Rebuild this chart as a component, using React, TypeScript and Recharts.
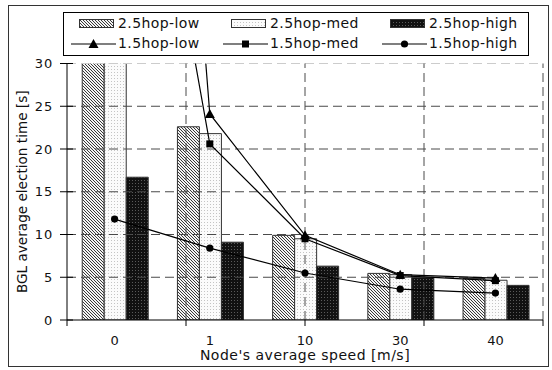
import { Bar, ComposedChart, Line, ReferenceLine, XAxis, YAxis } from "recharts";

const speeds = ["0", "1", "10", "30", "40"];
const hop25Low = [40, 22.6, 9.9, 5.45, 4.85];
const hop25Med = [40, 21.8, 9.5, 5.3, 4.65];
const hop25High = [16.7, 9.1, 6.3, 5.0, 4.05];
const hop15Low = [165, 24.1, 9.9, 5.3, 4.9];
const hop15Med = [83, 20.6, 9.5, 5.2, 4.6];
const hop15High = [11.8, 8.4, 5.5, 3.6, 3.15];
const yTicks = [0, 5, 10, 15, 20, 25, 30];
const boundaries = [0, 1, 2, 3, 4, 5];

const rows = speeds.map((speed, i) => ({
  speed,
  low25: hop25Low[i],
  med25: hop25Med[i],
  high25: hop25High[i],
  low15: hop15Low[i],
  med15: hop15Med[i],
  high15: hop15High[i],
}));

const FONT = "'DejaVu Sans', sans-serif";
const DARK_DASH = "#4a4a4a";
const LIGHT_DASH = "#ccc";

function triangle(cx: number, cy: number, key?: number) {
  return <path key={key} d={`M${cx},${cy - 5} L${cx + 5},${cy + 4} L${cx - 5},${cy + 4} Z`} fill="#000" />;
}
function square(cx: number, cy: number, key?: number) {
  return <rect key={key} x={cx - 3.5} y={cy - 3.5} width={7} height={7} fill="#000" />;
}
function circle(cx: number, cy: number, key?: number) {
  return <circle key={key} cx={cx} cy={cy} r={3.6} fill="#000" />;
}

const markerDot = (shape: typeof triangle) => (props: any) => {
  const { cx, cy, index } = props;
  if (cx == null || cy == null) return <g key={index} />;
  return shape(cx, cy, index);
};

function YTick({ x, y, payload }: any) {
  return (
    <g>
      <line x1={x + 7} x2={x + 20} y1={y} y2={y} stroke="#000" />
      <text x={x} y={y} dy={4.6} textAnchor="end" fontFamily={FONT} fontSize={13} fill="#111" letterSpacing={0.8}>
        {payload.value}
      </text>
    </g>
  );
}

const barItems = [
  { name: "2.5hop-low", fill: "url(#p-low)" },
  { name: "2.5hop-med", fill: "url(#p-med)" },
  { name: "2.5hop-high", fill: "url(#p-high)" },
];
const lineItems = [
  { name: "1.5hop-low", shape: triangle },
  { name: "1.5hop-med", shape: square },
  { name: "1.5hop-high", shape: circle },
];
const colStarts = [14, 166, 325];

function LegendBox() {
  const textStyle: React.CSSProperties = {
    position: "absolute",
    fontFamily: FONT,
    fontSize: 14,
    letterSpacing: 0.4,
    color: "#111",
    lineHeight: "16px",
    whiteSpace: "nowrap",
  };
  return (
    <div
      style={{
        position: "absolute",
        left: 63,
        top: 12,
        width: 464,
        height: 42,
        border: "1px solid #000",
        background: "#fff",
      }}
    >
      {barItems.map((it, i) => (
        <div key={it.name}>
          <svg style={{ position: "absolute", left: colStarts[i] + 1, top: 6 }} width={35} height={9}>
            <rect x={0.5} y={0.5} width={34} height={8} fill={it.fill} stroke="#333" />
          </svg>
          <span style={{ ...textStyle, left: colStarts[i] + 40, top: 2 }}>{it.name}</span>
        </div>
      ))}
      {lineItems.map((it, i) => (
        <div key={it.name}>
          <svg style={{ position: "absolute", left: colStarts[i] - 7, top: 24 }} width={45} height={14}>
            <line x1={0} x2={45} y1={7} y2={7} stroke="#000" strokeWidth={1.2} />
            {it.shape(22.5, 7)}
          </svg>
          <span style={{ ...textStyle, left: colStarts[i] + 40, top: 22 }}>{it.name}</span>
        </div>
      ))}
    </div>
  );
}

export default function App() {
  return (
    <div style={{ position: "absolute", left: 0, top: 0, width: 552, height: 370, background: "#fff" }}>
      <div
        style={{
          position: "absolute",
          left: 8,
          top: 5,
          width: 541,
          height: 362,
          border: "1px solid #333",
          boxSizing: "border-box",
        }}
      />
      <ComposedChart
        width={552}
        height={370}
        data={rows}
        margin={{ top: 63.5, right: 9, bottom: 9, left: 7 }}
        barGap={0}
        barCategoryGap="16%"
        style={{ position: "absolute", left: 0, top: 0 }}
      >
        <defs>
          <pattern id="p-low" patternUnits="userSpaceOnUse" width={3} height={3}>
            <rect width={3} height={3} fill="#f4f4f4" />
            <path d="M0,0 L3,3 M-1,2 L1,4 M2,-1 L4,1" stroke="#222" strokeWidth={0.9} />
          </pattern>
          <pattern id="p-med" patternUnits="userSpaceOnUse" width={3} height={3}>
            <rect width={3} height={3} fill="#fbfbfb" />
            <rect width={1} height={1} fill="#c4c4c4" />
          </pattern>
          <pattern id="p-high" patternUnits="userSpaceOnUse" width={3} height={3}>
            <rect width={3} height={3} fill="#111" />
            <rect width={1} height={1} fill="#5a5a5a" />
          </pattern>
        </defs>
        <XAxis
          xAxisId="b"
          dataKey="speed"
          axisLine={false}
          tickLine={false}
          tickSize={0}
          tickMargin={14.5}
          height={40}
          tick={{ fontFamily: FONT, fontSize: 13, fill: "#111" }}
          label={{
            value: "Node's average speed [m/s]",
            position: "insideBottom",
            offset: 1,
            style: { fontFamily: FONT, fontSize: 14, fill: "#111", letterSpacing: 0.5 },
          }}
        />
        <XAxis
          xAxisId="a"
          type="number"
          domain={[0, 5]}
          ticks={boundaries}
          tickFormatter={() => ""}
          tickSize={6}
          height={1}
          axisLine={{ stroke: "#000" }}
          tickLine={{ stroke: "#000" }}
        />
        <YAxis
          domain={[0, 30]}
          ticks={yTicks}
          allowDataOverflow
          width={60}
          axisLine={{ stroke: "#000" }}
          tickLine={false}
          tickSize={0}
          tickMargin={14}
          tick={<YTick />}
          label={{
            value: "BGL average election time [s]",
            angle: -90,
            position: "insideLeft",
            offset: 15,
            style: { fontFamily: FONT, fontSize: 13.6, fill: "#111", textAnchor: "middle" },
          }}
        />
        {yTicks.slice(1, -1).map((v) => (
          <ReferenceLine key={`h${v}`} xAxisId="b" y={v} stroke={DARK_DASH} strokeDasharray="9 5" />
        ))}
        <ReferenceLine xAxisId="b" y={30} stroke={LIGHT_DASH} strokeDasharray="9 5" />
        {boundaries.slice(1, -1).map((v) => (
          <ReferenceLine key={`v${v}`} xAxisId="a" x={v} stroke={DARK_DASH} strokeDasharray="9 5" />
        ))}
        <ReferenceLine xAxisId="a" x={5} stroke={LIGHT_DASH} strokeDasharray="9 5" />
        <Bar xAxisId="b" dataKey="low25" fill="url(#p-low)" stroke="#333" isAnimationActive={false} />
        <Bar xAxisId="b" dataKey="med25" fill="url(#p-med)" stroke="#333" isAnimationActive={false} />
        <Bar xAxisId="b" dataKey="high25" fill="url(#p-high)" stroke="#333" isAnimationActive={false} />
        <Line
          xAxisId="b"
          dataKey="low15"
          type="linear"
          stroke="#000"
          strokeWidth={1.2}
          dot={markerDot(triangle)}
          activeDot={false}
          isAnimationActive={false}
        />
        <Line
          xAxisId="b"
          dataKey="med15"
          type="linear"
          stroke="#000"
          strokeWidth={1.2}
          dot={markerDot(square)}
          activeDot={false}
          isAnimationActive={false}
        />
        <Line
          xAxisId="b"
          dataKey="high15"
          type="linear"
          stroke="#000"
          strokeWidth={1.2}
          dot={markerDot(circle)}
          activeDot={false}
          isAnimationActive={false}
        />
      </ComposedChart>
      <LegendBox />
    </div>
  );
}
